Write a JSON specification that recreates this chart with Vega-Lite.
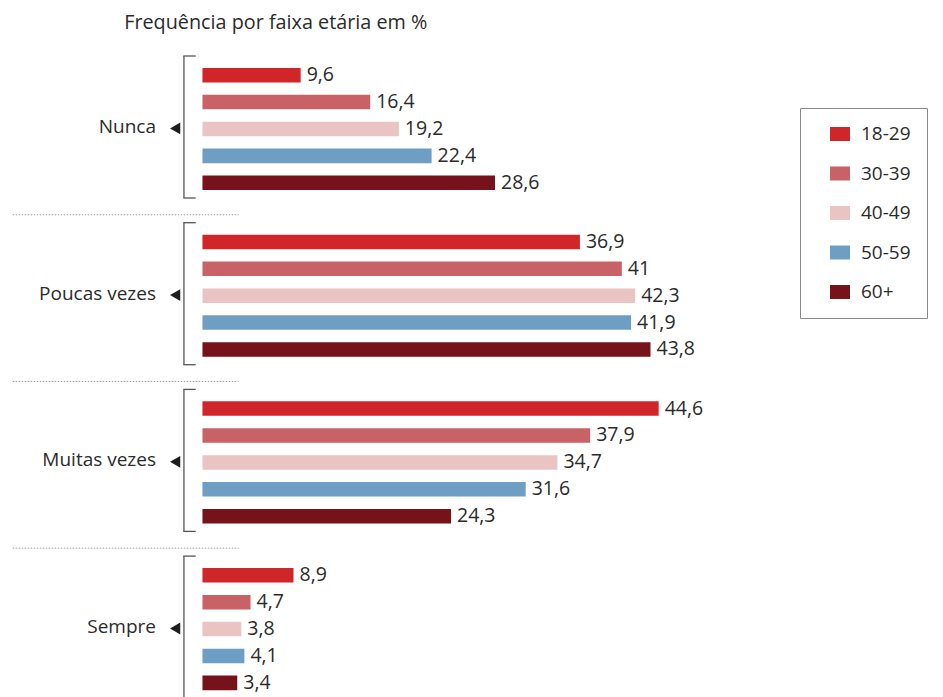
{
  "$schema": "https://vega.github.io/schema/vega-lite/v6.json",
  "autosize": {"type": "pad"},
  "padding": {"left": 12, "top": 12, "right": 0, "bottom": 0},
  "background": "white",
  "bounds": "flush",
  "config": {
    "locale": {"number": {"decimal": ",", "thousands": ".", "grouping": [3], "currency": ["", " €"]}},
    "font": "Open Sans",
    "view": {"stroke": null},
    "axis": {"disable": true}
  },
  "title": {"text": "Frequência por faixa etária em %", "anchor": "start", "frame": "bounds", "dx": 112, "fontSize": 19.8, "fontWeight": "normal", "color": "#2b2b2b", "font": "Open Sans", "offset": 23},
  "data": {"values": [
    {"freq": "Nunca", "age": "18-29", "v": 9.6},
    {"freq": "Nunca", "age": "30-39", "v": 16.4},
    {"freq": "Nunca", "age": "40-49", "v": 19.2},
    {"freq": "Nunca", "age": "50-59", "v": 22.4},
    {"freq": "Nunca", "age": "60+", "v": 28.6},
    {"freq": "Poucas vezes", "age": "18-29", "v": 36.9},
    {"freq": "Poucas vezes", "age": "30-39", "v": 41},
    {"freq": "Poucas vezes", "age": "40-49", "v": 42.3},
    {"freq": "Poucas vezes", "age": "50-59", "v": 41.9},
    {"freq": "Poucas vezes", "age": "60+", "v": 43.8},
    {"freq": "Muitas vezes", "age": "18-29", "v": 44.6},
    {"freq": "Muitas vezes", "age": "30-39", "v": 37.9},
    {"freq": "Muitas vezes", "age": "40-49", "v": 34.7},
    {"freq": "Muitas vezes", "age": "50-59", "v": 31.6},
    {"freq": "Muitas vezes", "age": "60+", "v": 24.3},
    {"freq": "Sempre", "age": "18-29", "v": 8.9},
    {"freq": "Sempre", "age": "30-39", "v": 4.7},
    {"freq": "Sempre", "age": "40-49", "v": 3.8},
    {"freq": "Sempre", "age": "50-59", "v": 4.1},
    {"freq": "Sempre", "age": "60+", "v": 3.4}
  ]},
  "facet": {"row": {"field": "freq", "type": "nominal", "sort": ["Nunca", "Poucas vezes", "Muitas vezes", "Sempre"],
    "header": {"title": null, "labelOrient": "left", "labelAngle": 0, "labelAlign": "left", "labelAnchor": "middle", "labelBaseline": "middle", "labelFontSize": 19, "labelColor": "#2b2b2b", "labelFont": "Open Sans", "labelPadding": 26}}},
  "spacing": 24.7,
  "spec": {
    "width": 491,
    "height": 142,
    "resolve": {"scale": {"y": "independent"}},
    "layer": [
      {
        "layer": [
          {
            "mark": {"type": "bar"},
            "encoding": {
              "y": {"field": "age", "type": "nominal", "sort": ["18-29", "30-39", "40-49", "50-59", "60+"], "scale": {"paddingInner": 0.46, "paddingOuter": 0.37, "align": 0.6}},
              "x": {"field": "v", "type": "quantitative", "scale": {"domain": [-2, 46], "nice": false, "zero": false}},
              "color": {"field": "age", "type": "nominal", "sort": ["18-29", "30-39", "40-49", "50-59", "60+"],
                "scale": {"domain": ["18-29", "30-39", "40-49", "50-59", "60+"], "range": ["#d0262a", "#c96266", "#eac3c3", "#6e9ec4", "#76121a"]},
                "legend": {"title": null, "orient": "none", "legendX": 618, "legendY": 52, "strokeColor": "#8a8a8a", "padding": 16, "symbolType": "M-1,-0.7H1V0.7H-1Z", "symbolSize": 400, "symbolStrokeWidth": 0, "symbolOpacity": 1, "symbolOffset": 14, "labelFontSize": 19, "labelColor": "#2b2b2b", "labelFont": "Open Sans", "labelOffset": 11, "rowPadding": 19.5}}
            }
          },
          {
            "mark": {"type": "text", "align": "left", "baseline": "middle", "dx": 6, "fontSize": 19.5, "color": "#2b2b2b"},
            "encoding": {
              "y": {"field": "age", "type": "nominal", "sort": ["18-29", "30-39", "40-49", "50-59", "60+"]},
              "x": {"field": "v", "type": "quantitative"},
              "text": {"field": "v", "type": "quantitative", "format": ".1~f"}
            }
          }
        ]
      },
      {
        "transform": [{"aggregate": [{"op": "count", "as": "n"}], "groupby": ["freq"]}],
        "layer": [
          {
            "mark": {"type": "rule", "color": "#555555", "strokeWidth": 1.3},
            "encoding": {
              "x": {"datum": -1.81, "type": "quantitative"},
              "y": {"datum": 0, "type": "quantitative", "scale": {"domain": [0, 1], "nice": false, "zero": false}},
              "y2": {"datum": 1}
            }
          },
          {
            "mark": {"type": "rule", "color": "#555555", "strokeWidth": 1.3},
            "encoding": {
              "x": {"datum": -1.87, "type": "quantitative"},
              "x2": {"datum": -0.66},
              "y": {"datum": 1, "type": "quantitative"}
            }
          },
          {
            "mark": {"type": "rule", "color": "#555555", "strokeWidth": 1.3},
            "encoding": {
              "x": {"datum": -1.87, "type": "quantitative"},
              "x2": {"datum": -0.66},
              "y": {"datum": 0, "type": "quantitative"}
            }
          },
          {
            "mark": {"type": "point", "shape": "triangle-left", "filled": true, "color": "#1e1e1e", "opacity": 1, "size": 140},
            "encoding": {
              "x": {"datum": -2.67, "type": "quantitative"},
              "y": {"datum": 0.49, "type": "quantitative"}
            }
          },
          {
            "transform": [{"filter": "datum.freq != 'Sempre'"}],
            "mark": {"type": "rule", "color": "#9a9a9a", "strokeWidth": 1, "strokeDash": [1.5, 1.5]},
            "encoding": {
              "x": {"datum": -18.55, "type": "quantitative"},
              "x2": {"datum": 3.54},
              "y": {"datum": -0.118, "type": "quantitative"}
            }
          }
        ]
      }
    ]
  }
}
